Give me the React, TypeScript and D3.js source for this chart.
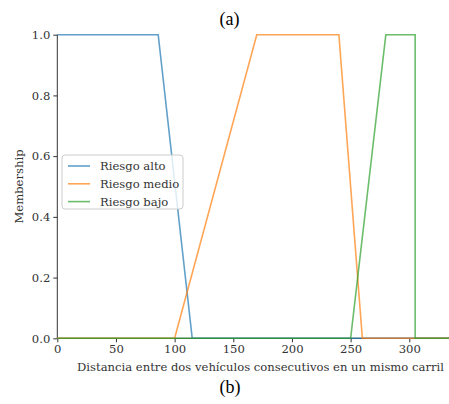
import { useEffect, useRef } from "react"
import * as d3 from "d3"

// universe of discourse (distance) and membership breakpoints
const xTicks = [0, 50, 100, 150, 200, 250, 300]
const yTicks = [0, 0.2, 0.4, 0.6, 0.8, 1.0]
const seriesNames = ["Riesgo alto", "Riesgo medio", "Riesgo bajo"]
const seriesColours = ["#1f77b4", "#ff7f0e", "#2ca02c"]

const riesgoAltoX = [0, 86, 115, 347]
const riesgoAltoY = [1, 1, 0, 0]
const riesgoMedioX = [0, 100, 170, 240, 260, 347]
const riesgoMedioY = [0, 0, 1, 1, 0, 0]
const riesgoBajoX = [0, 250, 280, 305, 305, 347]
const riesgoBajoY = [0, 0, 1, 1, 0, 0]

const xMax = 347
const xLabel = "Distancia entre dos vehículos consecutivos en un mismo carril"
const yLabel = "Membership"

const W = 449
const H = 404

const App = () => {
  const ref = useRef<SVGSVGElement>(null)

  useEffect(() => {
    const svg = d3.select(ref.current)
    svg.selectAll("*").remove()

    const x = d3.scaleLinear().domain([0, xMax]).range([57.3, 57.3 + xMax * 1.1733])
    const y = d3.scaleLinear().domain([0, 1]).range([338.3, 34.7])

    const font = "DejaVu Serif"
    const caption = "Liberation Serif"
    const fs = "11.6px"

    svg
      .append("text")
      .attr("x", 229.5)
      .attr("y", 25)
      .attr("text-anchor", "middle")
      .attr("font-family", caption)
      .attr("font-size", "18px")
      .attr("fill", "#000")
      .text("(a)")

    svg
      .append("text")
      .attr("x", 230)
      .attr("y", 393)
      .attr("text-anchor", "middle")
      .attr("font-family", caption)
      .attr("font-size", "18px")
      .attr("fill", "#000")
      .text("(b)")

    // axes
    const xAxis = svg
      .append("g")
      .attr("transform", `translate(0, ${y(0)})`)
      .call(d3.axisBottom(x).tickValues(xTicks).tickFormat(d3.format("d")).tickSize(4).tickPadding(2))
    const yAxis = svg
      .append("g")
      .attr("transform", `translate(${x(0)}, 0)`)
      .call(d3.axisLeft(y).tickValues(yTicks).tickFormat(d3.format(".1f")).tickSize(4).tickPadding(3))

    for (const ax of [xAxis, yAxis]) {
      ax.selectAll("path").attr("stroke", "#333").attr("stroke-width", 1)
      ax.selectAll("line").attr("stroke", "#333")
      ax.selectAll("text")
        .attr("font-family", font)
        .attr("font-size", fs)
        .attr("fill", "#333")
    }
    xAxis.select("path.domain").attr("d", `M${x(0)},0H${x(xMax)}`)
    yAxis.select("path.domain").attr("d", `M0,${y(0)}V${y(1)}`)

    svg
      .append("text")
      .attr("x", 260.5)
      .attr("y", 371)
      .attr("text-anchor", "middle")
      .attr("font-family", font)
      .attr("font-size", fs)
      .attr("fill", "#333")
      .text(xLabel)

    svg
      .append("text")
      .attr("transform", `translate(23, ${(y(0) + y(1)) / 2}) rotate(-90)`)
      .attr("text-anchor", "middle")
      .attr("font-family", font)
      .attr("font-size", fs)
      .attr("fill", "#333")
      .text(yLabel)

    // membership functions
    const series = [
      d3.zip(riesgoAltoX, riesgoAltoY),
      d3.zip(riesgoMedioX, riesgoMedioY),
      d3.zip(riesgoBajoX, riesgoBajoY),
    ]
    const line = d3
      .line<number[]>()
      .x((d) => x(d[0]))
      .y((d) => y(d[1]))

    series.forEach((pts, i) => {
      svg
        .append("path")
        .attr("d", line(pts))
        .attr("fill", "none")
        .attr("stroke", seriesColours[i])
        .attr("stroke-opacity", 0.7)
        .attr("stroke-width", 1.6)
    })

    // legend
    const lg = svg.append("g").attr("transform", "translate(62, 155)")
    lg.append("rect")
      .attr("width", 121)
      .attr("height", 54)
      .attr("rx", 3)
      .attr("fill", "#fff")
      .attr("fill-opacity", 0.8)
      .attr("stroke", "#ccc")
    seriesNames.forEach((name, i) => {
      const ly = 11 + i * 17.8
      lg.append("line")
        .attr("x1", 6)
        .attr("x2", 28)
        .attr("y1", ly)
        .attr("y2", ly)
        .attr("stroke", seriesColours[i])
        .attr("stroke-opacity", 0.7)
        .attr("stroke-width", 1.6)
      lg.append("text")
        .attr("x", 38)
        .attr("y", ly + 4)
        .attr("font-family", font)
        .attr("font-size", fs)
        .attr("fill", "#333")
        .text(name)
    })
  }, [])

  return (
    <svg
      ref={ref}
      width={W}
      height={H}
      viewBox={`0 0 ${W} ${H}`}
      style={{ position: "absolute", left: 0, top: 0, background: "#fff" }}
    />
  )
}

export default App
